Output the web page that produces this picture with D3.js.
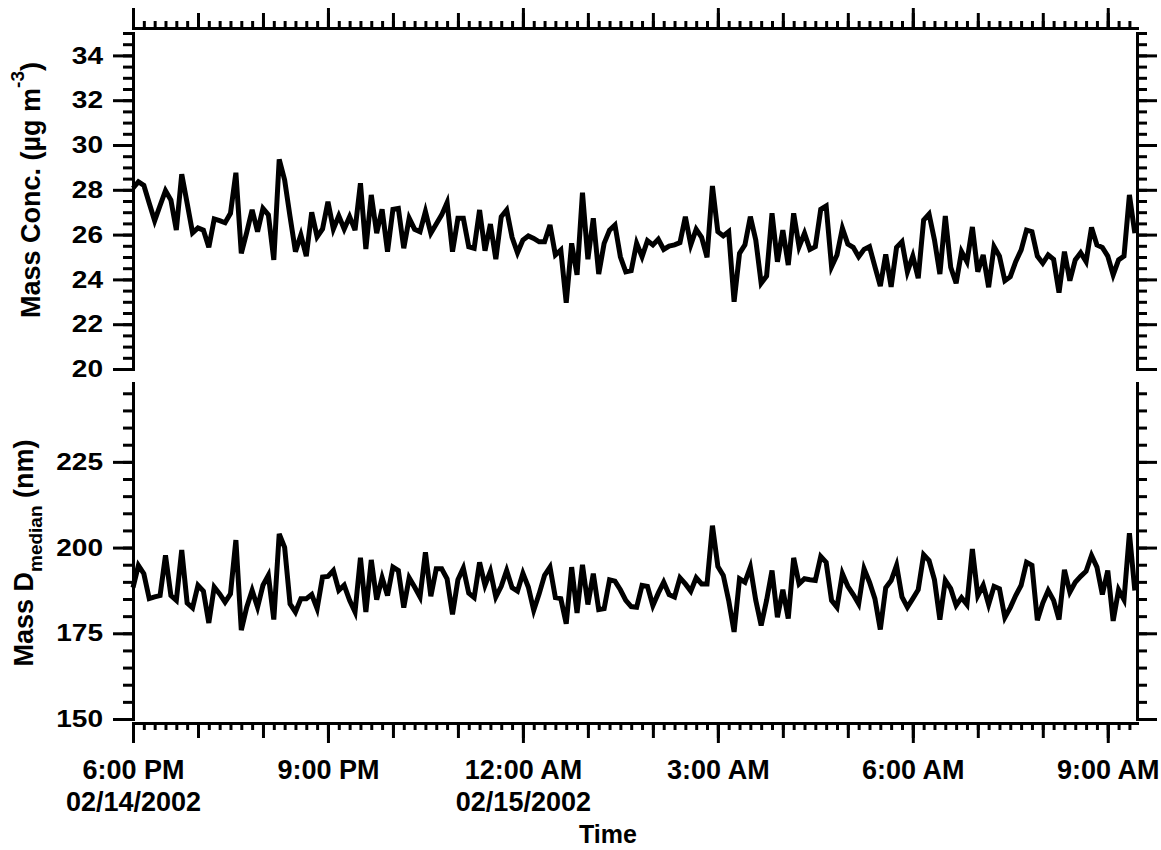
<!DOCTYPE html>
<html>
<head>
<meta charset="utf-8">
<script src="https://cdn.jsdelivr.net/npm/d3@7"></script>
<style>
  body { margin: 0; background: #fff; }
  svg text { font-family: "Liberation Sans", Arial, Helvetica, sans-serif; font-weight: bold; fill: #000; }
</style>
</head>
<body>
<div id="chart"></div>
<script>
const width = 1161;
const height = 850;

// one sample every 5 minutes starting 6:00 PM 02/14/2002
const startTime = new Date(2002, 1, 14, 18, 0);
const endTime = new Date(2002, 1, 15, 9, 27);
const stepMinutes = 5;

// Mass Conc. (ug m-3)
const massConc = [
  28.07, 28.36, 28.2, 27.4, 26.62, 27.3, 27.96, 27.54, 26.2, 28.7,
  27.4, 26.08, 26.3, 26.2, 25.43, 26.7, 26.62, 26.53, 26.95, 28.76,
  25.16, 26.1, 27.1, 26.13, 27.17, 26.88, 24.87, 29.36, 28.44, 26.8,
  25.24, 25.98, 25.04, 27.0, 25.9, 26.25, 27.47, 26.25, 26.84, 26.25,
  26.8, 26.2, 28.29, 25.36, 27.77, 26.06, 27.13, 25.24, 27.13, 27.17,
  25.39, 26.73, 26.24, 26.13, 27.03, 26.06, 26.47, 26.88, 27.43, 25.24,
  26.73, 26.73, 25.46, 25.39, 27.1, 25.28, 26.47, 24.9, 26.8, 27.1,
  25.88, 25.19, 25.76, 25.94, 25.83, 25.68, 25.68, 26.43, 25.09, 25.31,
  22.96, 25.61, 24.2, 27.87, 24.9, 26.73, 24.24, 25.61, 26.2, 26.43,
  25.01, 24.34, 24.39, 25.61, 25.01, 25.73, 25.54, 25.79, 25.34, 25.49,
  25.54, 25.64, 26.8, 25.54, 26.24, 25.88, 24.99, 28.17, 26.13, 25.94,
  26.13, 23.0, 25.16, 25.54, 26.8, 25.76, 23.83, 24.15, 26.95, 24.79,
  26.2, 24.64, 26.95, 25.46, 26.06, 25.34, 25.46, 27.13, 27.28, 24.57,
  25.09, 26.28, 25.58, 25.43, 25.01, 25.34, 25.46, 24.57, 23.7, 25.12,
  23.67, 25.43, 25.68, 24.34, 25.04, 24.05, 26.65, 26.92, 25.76, 24.24,
  26.83, 24.54, 23.83, 25.24, 24.79, 26.34, 24.34, 25.09, 23.65, 25.46,
  25.04, 23.94, 24.12, 24.79, 25.31, 26.2, 26.13, 25.04, 24.72, 25.09,
  24.9, 23.41, 25.24, 23.94, 24.87, 25.19, 24.79, 26.32, 25.54, 25.43,
  25.04, 24.2, 24.87, 25.04, 27.77, 26.06
];

// Mass D_median (nm)
const dMedian = [
  188.3, 194.8, 192.4, 185.1, 185.6, 186.0, 197.7, 186.0, 184.6, 199.3,
  183.8, 182.4, 189.0, 187.3, 178.0, 188.5, 186.5, 184.1, 186.5, 202.2,
  175.9, 182.6, 187.5, 182.6, 189.0, 191.9, 179.0, 204.0, 200.1, 183.6,
  181.2, 185.1, 185.1, 186.3, 182.2, 191.4, 191.6, 193.3, 187.5, 189.0,
  184.6, 181.2, 197.0, 181.2, 196.4, 184.8, 191.2, 186.0, 194.3, 193.3,
  182.5, 191.2, 188.5, 185.6, 198.6, 185.8, 193.8, 193.8, 190.9, 180.5,
  190.6, 194.0, 186.7, 185.4, 195.7, 189.0, 193.1, 185.6, 188.7, 193.3,
  188.3, 187.3, 192.5, 188.5, 181.7, 186.5, 191.9, 194.3, 185.4, 185.1,
  177.8, 194.3, 180.9, 195.0, 183.4, 192.4, 181.9, 182.2, 190.6, 190.2,
  187.7, 184.6, 182.8, 182.6, 189.0, 188.7, 183.1, 186.7, 189.9, 186.3,
  185.6, 191.2, 189.4, 187.3, 191.2, 189.4, 189.4, 206.4, 194.5, 191.9,
  184.6, 175.4, 190.9, 189.9, 194.3, 184.6, 177.3, 184.6, 193.3, 179.7,
  187.7, 179.3, 197.0, 189.4, 190.9, 190.6, 190.4, 197.4, 195.7, 184.6,
  182.6, 192.4, 188.7, 186.3, 183.6, 193.8, 189.9, 185.1, 176.1, 188.3,
  190.4, 194.8, 185.6, 182.6, 185.1, 187.7, 197.9, 196.2, 190.6, 179.0,
  190.4, 188.0, 183.1, 185.4, 183.4, 199.6, 186.0, 189.0, 183.4, 188.7,
  188.0, 179.6, 182.5, 186.0, 189.0, 195.7, 194.8, 178.8, 183.8, 187.5,
  184.6, 179.0, 193.5, 187.0, 189.9, 191.6, 193.1, 197.7, 194.3, 186.3,
  193.3, 178.6, 187.7, 184.8, 204.2, 187.5
];

const concTicks = [20, 22, 24, 26, 28, 30, 32, 34];
const diamTicks = [150, 175, 200, 225];
const majorTimes = ["2002-02-14 18:00", "2002-02-14 21:00", "2002-02-15 00:00",
                    "2002-02-15 03:00", "2002-02-15 06:00", "2002-02-15 09:00"];
const timeLabels = ["6:00 PM", "9:00 PM", "12:00 AM", "3:00 AM", "6:00 AM", "9:00 AM"];
const dateLabels = ["02/14/2002", "", "02/15/2002", "", "", ""];

const left = 133, right = 1137;
const topPanel = {y0: 369, y1: 33};
const botPanel = {y0: 719, y1: 383};
const topAxisY = 28, bottomAxisY = 723;
const labelStretch = 1.17;

const parseTime = d3.timeParse("%Y-%m-%d %H:%M");
const majorDates = majorTimes.map(parseTime);
const times = massConc.map((_, i) => d3.timeMinute.offset(startTime, i * stepMinutes));

const x = d3.scaleTime().domain([startTime, endTime]).range([left, right]);
const yConc = d3.scaleLinear().domain([20, 35]).range([topPanel.y0, topPanel.y1]);
const yDiam = d3.scaleLinear().domain([150, 248]).range([botPanel.y0, botPanel.y1]);

const svg = d3.select("#chart")
  .append("svg")
  .attr("width", width)
  .attr("height", height)
  .attr("viewBox", [0, 0, width, height]);

const styleAxis = g => {
  g.selectAll(".domain").attr("stroke-width", 3).attr("stroke-linecap", "square");
  g.selectAll(".tick line").attr("stroke-width", 3);
};

const yAxes = (y, majors, minorStep) => {
  const [lo, hi] = y.domain();
  const minors = d3.range(lo, hi + 1e-9, minorStep);

  svg.append("g")
    .attr("transform", `translate(${left},0)`)
    .call(d3.axisLeft(y).tickValues(minors).tickSize(10).tickFormat(""))
    .call(g => g.select(".domain").remove())
    .call(styleAxis);

  svg.append("g")
    .attr("transform", `translate(${left},0)`)
    .call(d3.axisLeft(y).tickValues(majors).tickSize(20).tickSizeOuter(0).tickPadding(10))
    .call(styleAxis)
    .call(g => g.selectAll(".tick text")
      .attr("font-size", 24)
      .attr("x", -30 / labelStretch)
      .attr("transform", `scale(${labelStretch},1)`));

  svg.append("g")
    .attr("transform", `translate(${right},0)`)
    .call(d3.axisRight(y).tickValues(minors).tickSize(10).tickFormat(""))
    .call(g => g.select(".domain").remove())
    .call(styleAxis);

  svg.append("g")
    .attr("transform", `translate(${right},0)`)
    .call(d3.axisRight(y).tickValues(majors).tickSize(20).tickSizeOuter(0).tickFormat(""))
    .call(styleAxis);
};

yAxes(yConc, concTicks, 0.5);
yAxes(yDiam, diamTicks, 5);

const xAxes = (axisFn, yPos) => {
  svg.append("g")
    .attr("transform", `translate(0,${yPos})`)
    .call(axisFn(x).ticks(d3.timeMinute.every(10)).tickSize(7).tickFormat(""))
    .call(g => g.select(".domain").remove())
    .call(styleAxis);
  svg.append("g")
    .attr("transform", `translate(0,${yPos})`)
    .call(axisFn(x).ticks(d3.timeHour.every(1)).tickSize(15).tickFormat(""))
    .call(g => g.select(".domain").remove())
    .call(styleAxis);
  return svg.append("g")
    .attr("transform", `translate(0,${yPos})`)
    .call(axisFn(x).tickValues(majorDates).tickSize(20).tickSizeOuter(0).tickFormat(""))
    .call(styleAxis);
};

xAxes(d3.axisTop, topAxisY);
const xBottom = xAxes(d3.axisBottom, bottomAxisY);

xBottom.selectAll(".tick text").remove();
xBottom.selectAll(".tick").each(function(d, i) {
  const t = d3.select(this);
  t.append("text").attr("y", 56).attr("text-anchor", "middle")
    .attr("font-size", 27).text(timeLabels[i]);
  if (dateLabels[i]) {
    t.append("text").attr("y", 88).attr("text-anchor", "middle")
      .attr("font-size", 27).text(dateLabels[i]);
  }
});

const concLine = d3.line()
  .x((d, i) => x(times[i]))
  .y(d => yConc(d));

const diamLine = d3.line()
  .x((d, i) => x(times[i]))
  .y(d => yDiam(d));

svg.append("path")
  .datum(massConc)
  .attr("fill", "none")
  .attr("stroke", "#000")
  .attr("stroke-width", 5)
  .attr("d", concLine);

svg.append("path")
  .datum(dMedian)
  .attr("fill", "none")
  .attr("stroke", "#000")
  .attr("stroke-width", 5)
  .attr("d", diamLine);

// axis titles
const t1 = svg.append("text")
  .attr("transform", "translate(40,190) rotate(-90)")
  .attr("text-anchor", "middle")
  .attr("font-size", 27);
t1.append("tspan").text("Mass Conc. (\u00b5g m");
t1.append("tspan").attr("dy", -16).attr("font-size", 19).text("-3");
t1.append("tspan").attr("dy", 16).text(")");

const t2 = svg.append("text")
  .attr("transform", "translate(33,553) rotate(-90)")
  .attr("text-anchor", "middle")
  .attr("font-size", 27);
t2.append("tspan").text("Mass D");
t2.append("tspan").attr("dy", 9).attr("font-size", 19).text("median");
t2.append("tspan").attr("dy", -9).text(" (nm)");

svg.append("text")
  .attr("x", 608)
  .attr("y", 843)
  .attr("text-anchor", "middle")
  .attr("font-size", 25)
  .text("Time");
</script>
</body>
</html>
